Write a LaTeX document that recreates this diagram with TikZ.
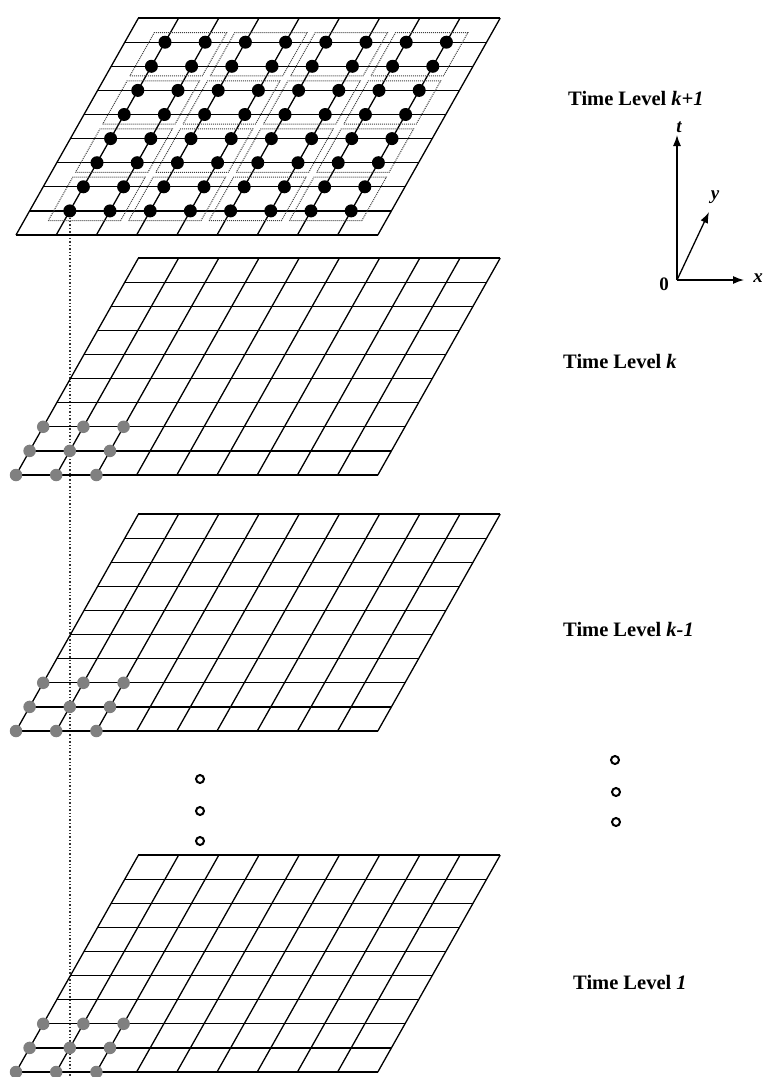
\documentclass[tikz,border=0pt]{standalone}
\usepackage{fontspec}
\setmainfont{Liberation Serif}
\usetikzlibrary{arrows.meta,backgrounds}
\definecolor{dotgray}{gray}{0.5}
\tikzset{
  mesh/.style={line width=1.3pt},
  bdot/.style={circle,fill=black,inner sep=0pt,minimum size=13pt},
  gdot/.style={circle,fill=dotgray,inner sep=0pt,minimum size=12.5pt},
  odot/.style={circle,draw,line width=2pt,inner sep=0pt,minimum size=8pt},
  blk/.style={densely dotted,line width=1pt,black!75},
  lvl/.style={anchor=west,inner sep=0pt,font=\fontsize{20.5}{24}\selectfont\bfseries},
  axlbl/.style={inner sep=0pt,font=\fontsize{19}{22}\selectfont\bfseries\itshape},
  axis/.style={line width=1.3pt,-{Latex[length=11pt,width=8pt]}}
}

\begin{document}
\begin{tikzpicture}[x=1pt,y=-1pt]
  \useasboundingbox (0,0) rectangle (764,1077);
  % time level k+1
  \begin{scope}[shift={(16,235)},x={(40.2pt,0pt)},y={(13.6pt,24.1pt)}]
    \foreach \i in {0,...,9} \draw[mesh] (\i,0) -- (\i,9);
    \foreach \j in {0,...,9} \draw[mesh] (0,\j) -- (9,\j);
    \foreach \bi in {0,...,3} \foreach \bj in {0,...,3}
      \draw[blk] ({2*\bi+0.6},{2*\bj+0.6}) -- ({2*\bi+2.4},{2*\bj+0.6})
        -- ({2*\bi+2.4},{2*\bj+2.4}) -- ({2*\bi+0.6},{2*\bj+2.4}) -- cycle;
    \foreach \i in {1,...,8} \foreach \j in {1,...,8}
      \node[bdot] (kp-\i-\j) at (\i,\j) {};
  \end{scope}
  % time levels k, k-1 and 1
  \foreach \yb/\nm in {475/k,731/km,1072/one} {
    \begin{scope}[shift={(16,\yb)},x={(40.2pt,0pt)},y={(13.6pt,24.1pt)}]
      \foreach \i in {0,...,9} \draw[mesh] (\i,0) -- (\i,9);
      \foreach \j in {0,...,9} \draw[mesh] (0,\j) -- (9,\j);
      \foreach \i in {0,...,2} \foreach \j in {0,...,2}
        \node[gdot] (\nm-\i-\j) at (\i,\j) {};
    \end{scope}
  }
  \begin{scope}[on background layer]
    \coordinate (foot) at (kp-1-1 |- 0,1077);
    \draw[dotted,line width=1.4pt,black!80] (kp-1-1) -- (foot);
  \end{scope}

  \node[lvl] (lkp) at (568,98) {Time Level \textit{k+1}};
  \node[lvl] (lk) at (563,361) {Time Level \textit{k}};
  \node[lvl] (lkm) at (563,629) {Time Level \textit{k-1}};
  \node[lvl] (lone) at (573,982) {Time Level \textit{1}};

  % axes
  \coordinate (o) at (677,280);
  \coordinate (xe) at (744,280);
  \coordinate (ye) at (709,212);
  \coordinate (te) at (677,135);
  \draw[axis] (o) -- (xe);
  \draw[axis] (o) -- (ye);
  \draw[axis] (o) -- (te);
  \node[axlbl] (xl) at (758,278) {x};
  \node[axlbl] (yl) at (715,197) {y};
  \node[axlbl] (tl) at (679,127) {t};
  \node[inner sep=0pt,font=\fontsize{19}{22}\selectfont\bfseries] (zero) at (664,284) {0};

  % more levels
  \node[odot] (vl1) at (200,779) {};
  \node[odot] (vl2) at (200,811) {};
  \node[odot] (vl3) at (200,841) {};
  \node[odot] (vr1) at (615,760) {};
  \node[odot] (vr2) at (616,792) {};
  \node[odot] (vr3) at (616,822) {};
\end{tikzpicture}
\end{document}
